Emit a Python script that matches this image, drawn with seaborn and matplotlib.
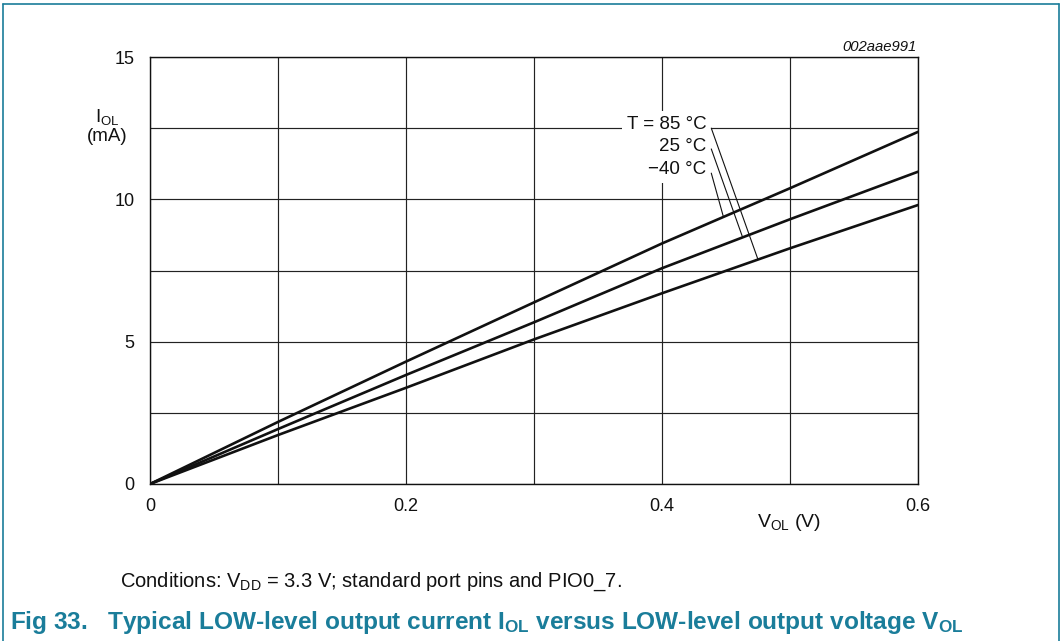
import numpy as np
import pandas as pd
import matplotlib
matplotlib.use("Agg")
import matplotlib.pyplot as plt
from matplotlib.lines import Line2D
import seaborn as sns

# ---- data ----
v_ol = [0.0, 0.1, 0.2, 0.3, 0.4, 0.5, 0.6]
i_ol_m40 = [0.0, 2.18, 4.30, 6.38, 8.45, 10.39, 12.37]
i_ol_25 = [0.0, 1.93, 3.83, 5.68, 7.58, 9.30, 10.97]
i_ol_85 = [0.0, 1.72, 3.38, 5.08, 6.70, 8.28, 9.80]
temp_labels = ["\u221240 \u00b0C", "25 \u00b0C", "T = 85 \u00b0C"]
x_ticks = [0.0, 0.1, 0.2, 0.3, 0.4, 0.5, 0.6]
x_tick_labels = ["0", "", "0.2", "", "0.4", "", "0.6"]
y_ticks = [0, 2.5, 5, 7.5, 10, 12.5, 15]
y_tick_labels = ["0", "", "5", "", "10", "", "15"]

sns.set_theme(style="white")
plt.rcParams["font.family"] = ["Liberation Sans", "DejaVu Sans"]
plt.rcParams["mathtext.fontset"] = "custom"
plt.rcParams["mathtext.rm"] = "Liberation Sans"
plt.rcParams["mathtext.it"] = "Liberation Sans:italic"
plt.rcParams["mathtext.bf"] = "Liberation Sans:bold"

TEAL = "#1a7d9a"
FS = 13

df = pd.concat([
    pd.DataFrame({"V": v_ol, "I": i_ol_m40, "T": temp_labels[0]}),
    pd.DataFrame({"V": v_ol, "I": i_ol_25, "T": temp_labels[1]}),
    pd.DataFrame({"V": v_ol, "I": i_ol_85, "T": temp_labels[2]}),
])

fig = plt.figure(figsize=(10.63, 6.41), dpi=100)
ax = fig.add_axes([150 / 1063, 1 - 484 / 641, 768 / 1063, 427 / 641])

sns.lineplot(data=df, x="V", y="I", hue="T", palette=["#111111"] * 3,
             legend=False, ax=ax, linewidth=1.9, sort=False, zorder=3)

ax.set_xlim(0, 0.6)
ax.set_ylim(0, 15)
ax.set_xticks(x_ticks)
ax.set_xticklabels(x_tick_labels)
ax.set_yticks(y_ticks)
ax.set_yticklabels(y_tick_labels)
ax.tick_params(axis="both", length=0, labelsize=FS, colors="#111111")
ax.tick_params(axis="x", pad=10)
ax.tick_params(axis="y", pad=11)
ax.grid(True, color="#222222", linewidth=0.85)
ax.set_xlabel("")
ax.set_ylabel("")
for s in ax.spines.values():
    s.set_color("#111111")
    s.set_linewidth(1.0)

# axis labels
ax.text(-0.056, 0.859, r"I$_{\mathrm{OL}}$", transform=ax.transAxes,
        ha="center", va="center", fontsize=FS + 0.5, color="#111111")
ax.text(-0.056, 0.813, "(mA)", transform=ax.transAxes,
        ha="center", va="center", fontsize=FS + 0.5, color="#111111")
ax.text(0.832, -0.089, r"V$_{\mathrm{OL}}$ (V)", transform=ax.transAxes,
        ha="center", va="center", fontsize=FS + 1, color="#111111")

# curve labels with leader lines
series = [i_ol_m40, i_ol_25, i_ol_85]
label_y = [11.05, 11.85, 12.63]
lead_start_y = [10.92, 11.77, 12.5]
lead_end_x = [0.448, 0.463, 0.475]
for lab, ser, ty, sy, ex in zip(temp_labels, series, label_y, lead_start_y, lead_end_x):
    ax.text(0.4345, ty, lab, ha="right", va="center", fontsize=FS + 0.5,
            color="#111111", zorder=4,
            bbox=dict(boxstyle="square,pad=0.25", fc="white", ec="none"))
    ey = float(np.interp(ex, v_ol, ser))
    ax.plot([0.4385, ex], [sy, ey], color="#111111", linewidth=0.8, zorder=5)

fig.text(917 / 1063, 1 - 47 / 641, "002aae991", ha="right", va="center",
         fontsize=10.7, style="italic", color="#111111")

fig.text(120 / 1063, 1 - 582 / 641,
         r"Conditions: V$_{\mathrm{DD}}$ = 3.3 V; standard port pins and PIO0_7.",
         ha="left", va="center", fontsize=14.5, color="#111111")
fig.text(10 / 1063, 1 - 623 / 641,
         r"Fig 33.   Typical LOW-level output current I$_{\mathbf{OL}}$ versus LOW-level output voltage V$_{\mathbf{OL}}$",
         ha="left", va="center", fontsize=17.6, fontweight="bold", color=TEAL)

# figure border (top, left, right)
W, H = 1063, 641
for (x0, y0, x1, y1) in [(2.5, 0, 2.5, 637), (2.5, 637, 1058.5, 637), (1058.5, 637, 1058.5, 0)]:
    fig.add_artist(Line2D([x0 / W, x1 / W], [y0 / H, y1 / H], color=TEAL,
                          linewidth=1.2, transform=fig.transFigure))

fig.savefig("out.png", dpi=100)
